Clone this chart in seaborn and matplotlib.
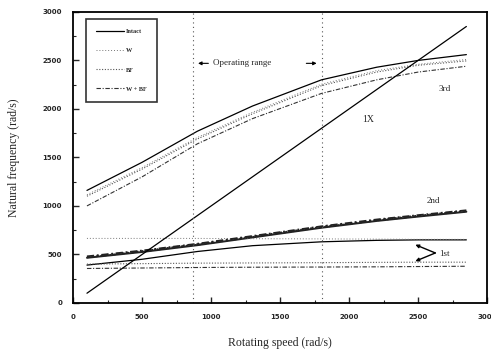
import numpy as np
import pandas as pd
import matplotlib
matplotlib.use("Agg")
import matplotlib.pyplot as plt
from matplotlib.ticker import MultipleLocator
import seaborn as sns

# rotating speed grid (rad/s)
speed = [100, 500, 900, 1300, 1800, 2200, 2500, 2850]

# 3rd mode
intact_3rd = [1160, 1450, 1770, 2030, 2300, 2430, 2500, 2560]
w_3rd = [1115, 1395, 1705, 1965, 2255, 2395, 2460, 2510]
bf_3rd = [1100, 1380, 1690, 1950, 2240, 2380, 2450, 2495]
wbf_3rd = [1000, 1300, 1640, 1900, 2160, 2300, 2380, 2440]

# 2nd mode
intact_2nd = [465, 525, 595, 675, 775, 845, 890, 940]
w_2nd = [475, 535, 605, 685, 785, 855, 900, 950]
bf_2nd = [470, 530, 600, 680, 780, 850, 895, 945]
wbf_2nd = [480, 540, 610, 690, 790, 860, 905, 955]

# 1st mode
intact_1st = [390, 450, 530, 590, 630, 645, 650, 650]
w_1st = [665, 665, 665, 662, 660, 658, 655, 655]
bf_1st = [400, 405, 410, 412, 415, 418, 420, 420]
wbf_1st = [355, 360, 365, 368, 370, 372, 375, 378]

# 1X line
one_x = [100, 2850]

op_range = [870, 1800]

sns.set_style("ticks")
plt.rcParams["font.family"] = ["Liberation Serif", "DejaVu Serif"]

fig, ax = plt.subplots(figsize=(4.91, 3.51), dpi=100)
fig.subplots_adjust(left=0.149, right=0.992, bottom=0.137, top=0.966)

styles = {
    "Intact": dict(color="black", linestyle="-", linewidth=0.9),
    "W": dict(color="#777777", linestyle=(0, (1, 2)), linewidth=0.7),
    "BF": dict(color="#555555", linestyle=(0, (1, 1.5)), linewidth=0.8),
    "W + BF": dict(color="#333333", linestyle=(0, (4, 1.5, 1, 1.5)), linewidth=0.8),
}

modes = {
    "Intact": [intact_1st, intact_2nd, intact_3rd],
    "W": [w_1st, w_2nd, w_3rd],
    "BF": [bf_1st, bf_2nd, bf_3rd],
    "W + BF": [wbf_1st, wbf_2nd, wbf_3rd],
}

handles = []
for name, vals in modes.items():
    for i, v in enumerate(vals):
        st = dict(styles[name])
        if i == 1:
            # 2nd mode curves overlap into a heavy band
            st["linewidth"] = st["linewidth"] + 0.5
            st["color"] = "#222222"
        sns.lineplot(x=speed, y=v, ax=ax, **st)
    handles.append(plt.Line2D([], [], **styles[name], label=name))

sns.lineplot(x=one_x, y=one_x, ax=ax, color="black", linewidth=0.9)

for xv in op_range:
    ax.axvline(xv, color="#555555", linestyle=(0, (1, 3)), linewidth=0.8)

ax.annotate("", xy=(op_range[0] + 15, 2470), xytext=(op_range[0] + 130, 2470),
            arrowprops=dict(arrowstyle="-|>", color="black", lw=0.8,
                            mutation_scale=5))
ax.annotate("", xy=(op_range[1] - 15, 2470), xytext=(op_range[1] - 130, 2470),
            arrowprops=dict(arrowstyle="-|>", color="black", lw=0.8,
                            mutation_scale=5))
ax.text(op_range[0] + 140, 2470, "Operating range", fontsize=6.5,
        va="center", ha="left")

ax.text(2695, 2210, "3rd", fontsize=6.5, ha="center", va="center")
ax.text(2140, 1890, "1X", fontsize=7, ha="center", va="center")
ax.text(2610, 1050, "2nd", fontsize=6.5, ha="center", va="center")
ax.text(2650, 505, "1st", fontsize=6.5, ha="left", va="center")
for ty in (600, 430):
    ax.annotate("", xy=(2480, ty), xytext=(2625, 515),
                arrowprops=dict(arrowstyle="-|>", color="black", lw=1.0,
                                mutation_scale=5, shrinkA=0, shrinkB=0))

ax.set_xlim(0, 3000)
ax.set_ylim(0, 3000)
ax.xaxis.set_major_locator(MultipleLocator(500))
ax.yaxis.set_major_locator(MultipleLocator(500))
ax.xaxis.set_minor_locator(MultipleLocator(250))
ax.yaxis.set_minor_locator(MultipleLocator(250))
ax.tick_params(which="both", direction="in", top=False, right=False)
ax.tick_params(which="major", length=4, width=1.0, labelsize=5, pad=8)
ax.tick_params(which="minor", length=2.5, width=0.8)
for lab in ax.get_xticklabels() + ax.get_yticklabels():
    lab.set_fontweight("bold")
    lab.set_family(["DejaVu Sans"])
for sp in ax.spines.values():
    sp.set_visible(True)
    sp.set_linewidth(1.3)
    sp.set_color("black")

ax.set_xlabel("Rotating speed (rad/s)", fontsize=8.5, labelpad=12)
ax.set_ylabel("Natural frequency (rad/s)", fontsize=8.5, labelpad=16)

leg = ax.legend(handles=handles, loc="upper left", bbox_to_anchor=(0.031, 0.976),
                fontsize=4.5, frameon=True, fancybox=False, edgecolor="black",
                handlelength=4.5, handletextpad=0.3, labelspacing=2.2,
                borderpad=1.6, borderaxespad=0)
leg.get_frame().set_linewidth(1.2)
for t in leg.get_texts():
    t.set_fontweight("bold")

fig.savefig("out.png", dpi=100)
